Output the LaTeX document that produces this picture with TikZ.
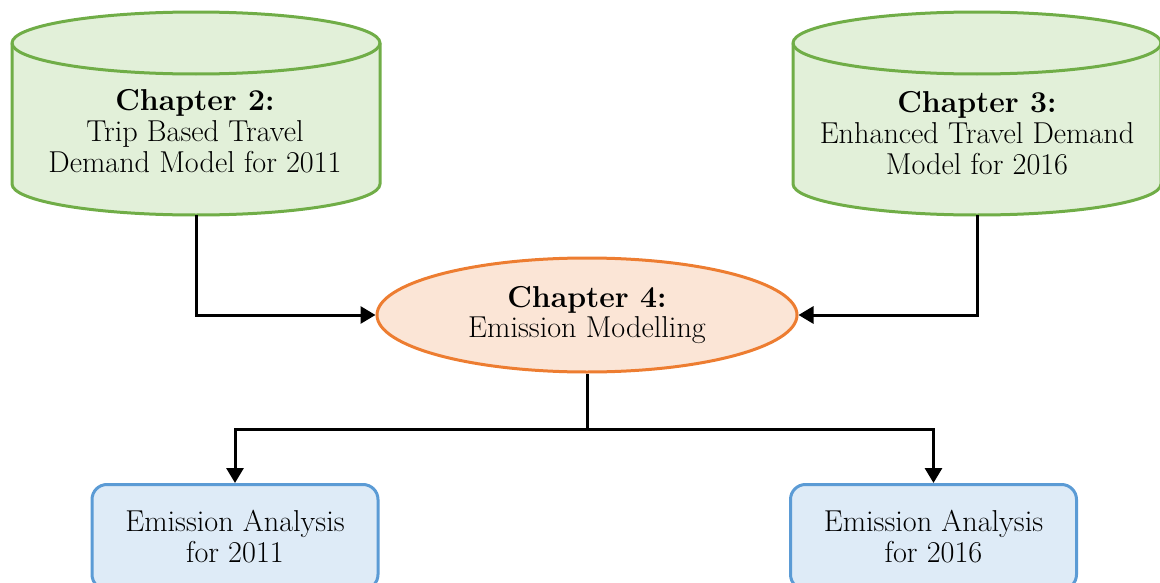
\documentclass[tikz,border=0pt]{standalone}
\usetikzlibrary{calc,arrows.meta,shapes.geometric}
\definecolor{cylfill}{HTML}{E2F0D9}
\definecolor{cylline}{HTML}{70AD47}
\definecolor{ellfill}{HTML}{FBE5D6}
\definecolor{ellline}{HTML}{ED7D31}
\definecolor{boxfill}{HTML}{DEEBF7}
\definecolor{boxline}{HTML}{5B9BD5}

\begin{document}
\begin{tikzpicture}[
    txt/.style = {align=center, font=\fontsize{17.2}{17.6}\selectfont},
    cyl/.style = {fill=cylfill, draw=cylline, line width=0.06cm},
    chapell/.style = {txt, ellipse, fill=ellfill, draw=ellline, line width=0.06cm, minimum width=8.4cm, minimum height=2.28cm, inner sep=0pt},
    resbox/.style = {txt, rectangle, rounded corners=0.3cm, fill=boxfill, draw=boxline, line width=0.06cm, minimum width=5.72cm, minimum height=2.1cm},
    conn/.style = {draw, line width=0.06cm},
    tip/.style = {-{Triangle[length=0.3cm,width=0.34cm]}}
  ]
    \useasboundingbox (0,0) rectangle (23.2,-11.66);
    %円柱（第2章・第3章）
    \coordinate(C2)at(3.92,-2.27);
    \coordinate(C3)at(19.54,-2.27);
    \foreach \c in {C2,C3}{
        \path[cyl](\c)++(-3.68,1.41)--++(0,-2.82)
            arc[start angle=180,end angle=360,x radius=3.68,y radius=0.62]--++(0,2.82)
            arc[start angle=0,end angle=180,x radius=3.68,y radius=0.62]--cycle;
        \path[draw,cylline,line width=0.06cm](\c)++(-3.68,1.41)
            arc[start angle=180,end angle=360,x radius=3.68,y radius=0.62];
    }
    \coordinate(B2)at($(C2)+(0,-2.03)$);
    \coordinate(B3)at($(C3)+(0,-2.03)$);
    \node[txt](T2)at(3.9,-2.62){\textbf{Chapter 2:}\\Trip Based Travel\\Demand Model for 2011};
    \node[txt](T3)at(19.54,-2.66){\textbf{Chapter 3:}\\Enhanced Travel Demand\\Model for 2016};
    %楕円（第4章）
    \node[chapell](C4)at(11.74,-6.3){\textbf{Chapter 4:}\\Emission Modelling};
    %結果
    \node[resbox](E1)at(4.7,-10.74){Emission Analysis\\for 2011};
    \node[resbox](E2)at(18.67,-10.74){Emission Analysis\\for 2016};
    %矢印
    \path[conn,tip](B2)|-(C4.west);
    \path[conn,tip](B3)|-(C4.east);
    \coordinate(J)at($(C4.south)+(0,-1.12)$);
    \path[conn](C4.south)--(J);
    \path[conn,tip](J)-|(E1.north);
    \path[conn,tip](J)-|(E2.north);
\end{tikzpicture}
\end{document}
